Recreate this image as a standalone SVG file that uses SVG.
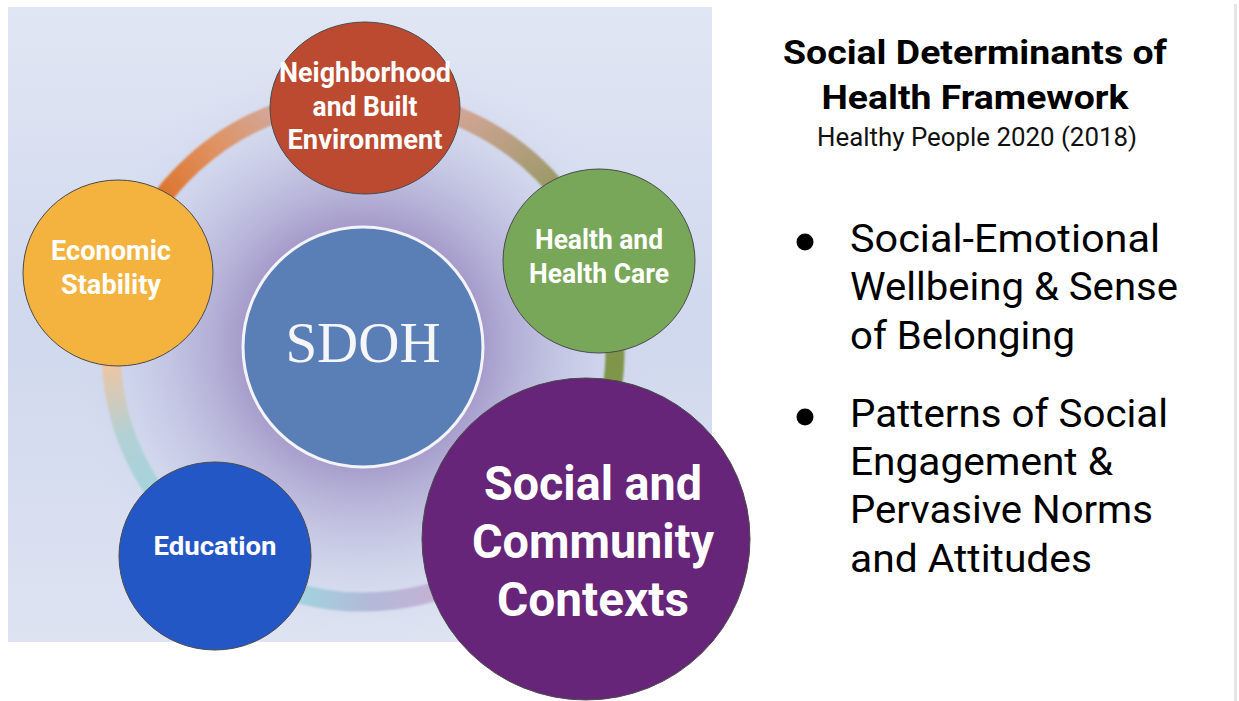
<svg xmlns="http://www.w3.org/2000/svg" width="1239" height="701" viewBox="0 0 1239 701">
  <style>
    .node { stroke: #4a4a4a; stroke-width: 1; }
    .lbl { font-family: Roboto, "Liberation Sans", sans-serif; font-weight: 700; fill: #ffffff; text-anchor: middle; }
    .ring { fill: none; stroke-width: 19; stroke-linecap: butt; }
    .title { font-family: Roboto, "Liberation Sans", sans-serif; font-weight: 700; fill: #000; text-anchor: middle; }
    .sub { font-family: Roboto, "Liberation Sans", sans-serif; font-weight: 400; fill: #111; text-anchor: middle; }
    .bul { font-family: Roboto, "Liberation Sans", sans-serif; font-weight: 400; fill: #000; font-size: 39px; }
  </style>
  <defs>
    <linearGradient id="bgBase" x1="0" y1="0" x2="0" y2="1">
      <stop offset="0" stop-color="#e0e6f3"/>
      <stop offset="0.5" stop-color="#d0d8ee"/>
      <stop offset="1" stop-color="#dde3f1"/>
    </linearGradient>
    <radialGradient id="glow" cx="363" cy="345" r="300" gradientUnits="userSpaceOnUse">
      <stop offset="0" stop-color="#8c7db8" stop-opacity="0.9"/>
      <stop offset="0.4" stop-color="#9a8cc2" stop-opacity="0.8"/>
      <stop offset="0.6" stop-color="#aea8d2" stop-opacity="0.55"/>
      <stop offset="0.8" stop-color="#c4c8e6" stop-opacity="0.3"/>
      <stop offset="1" stop-color="#d5dcef" stop-opacity="0"/>
    </radialGradient>
    <linearGradient id="gTopLeft" gradientUnits="userSpaceOnUse" x1="160" y1="200" x2="275" y2="118">
      <stop offset="0" stop-color="#dc732c"/>
      <stop offset="0.5" stop-color="#e0905e"/>
      <stop offset="1" stop-color="#d4a698"/>
    </linearGradient>
    <linearGradient id="gTopRight" gradientUnits="userSpaceOnUse" x1="455" y1="112" x2="612" y2="360">
      <stop offset="0" stop-color="#d4a596"/>
      <stop offset="0.3" stop-color="#a89c74"/>
      <stop offset="0.55" stop-color="#85934e"/>
      <stop offset="1" stop-color="#7f9548"/>
    </linearGradient>
    <linearGradient id="gLeft" gradientUnits="userSpaceOnUse" x1="110" y1="365" x2="155" y2="495">
      <stop offset="0" stop-color="#ecc6a4"/>
      <stop offset="0.5" stop-color="#b4d0d4"/>
      <stop offset="1" stop-color="#a4d4de"/>
    </linearGradient>
    <linearGradient id="gBottom" gradientUnits="userSpaceOnUse" x1="300" y1="595" x2="435" y2="590">
      <stop offset="0" stop-color="#a2d3de"/>
      <stop offset="0.5" stop-color="#b2bad8"/>
      <stop offset="1" stop-color="#c4b2d6"/>
    </linearGradient>
    <filter id="soft" x="-10%" y="-10%" width="120%" height="120%">
      <feGaussianBlur stdDeviation="0.9"/>
    </filter>
  </defs>

  <!-- page -->
  <rect x="0" y="0" width="1239" height="701" fill="#ffffff"/>
  <rect x="1234" y="4" width="3" height="697" fill="#e6e6e6"/>

  <!-- picture backdrop -->
  <rect x="8" y="7" width="704" height="635" fill="url(#bgBase)"/>
  <rect x="8" y="7" width="704" height="635" fill="url(#glow)"/>

  <!-- connectors: ring segments joining the determinants -->
  <g id="connectors" filter="url(#soft)">
    <path class="ring" stroke="url(#gTopLeft)" d="M 119.6 284.8 A 252 252 0 0 1 319.2 101.8"/>
    <path class="ring" stroke="url(#gTopRight)" d="M 406.8 101.8 A 252 252 0 0 1 611.2 393.8"/>
    <path class="ring" stroke="url(#gLeft)" d="M 111.2 358.8 A 252 252 0 0 0 218.5 556.4"/>
    <path class="ring" stroke="url(#gBottom)" d="M 276.8 586.8 A 252 252 0 0 0 525.0 543.0"/>
  </g>

  <g id="node-sdoh">
    <circle cx="363" cy="347" r="120" fill="#5a7fb6" stroke="#f4f4f8" stroke-width="3"/>
    <text x="363" y="362" font-family="'Liberation Serif', serif" font-size="57" fill="#f5f5fa" text-anchor="middle">SDOH</text>
  </g>

  <g id="node-neighborhood">
    <ellipse class="node" cx="365" cy="108" rx="95" ry="86" fill="#bb4a30"/>
    <text class="lbl" font-size="27" x="365" y="82" textLength="172" lengthAdjust="spacingAndGlyphs">Neighborhood</text>
    <text class="lbl" font-size="27" x="365" y="116" textLength="105" lengthAdjust="spacingAndGlyphs">and Built</text>
    <text class="lbl" font-size="27" x="365" y="149" textLength="155" lengthAdjust="spacingAndGlyphs">Environment</text>
  </g>

  <g id="node-economic">
    <ellipse class="node" cx="118" cy="273" rx="95" ry="93" fill="#f3b33e"/>
    <text class="lbl" font-size="27" x="111" y="260" textLength="120" lengthAdjust="spacingAndGlyphs">Economic</text>
    <text class="lbl" font-size="27" x="111" y="294" textLength="100" lengthAdjust="spacingAndGlyphs">Stability</text>
  </g>

  <g id="node-health">
    <ellipse class="node" cx="599" cy="261" rx="96" ry="92" fill="#79a75a"/>
    <text class="lbl" font-size="27" x="599" y="249" textLength="128" lengthAdjust="spacingAndGlyphs">Health and</text>
    <text class="lbl" font-size="27" x="599" y="283" textLength="140" lengthAdjust="spacingAndGlyphs">Health Care</text>
  </g>

  <g id="node-education">
    <ellipse class="node" cx="215" cy="556" rx="96" ry="94" fill="#2457c6"/>
    <text class="lbl" font-size="26" x="215" y="555" textLength="123" lengthAdjust="spacingAndGlyphs">Education</text>
  </g>

  <g id="node-social">
    <ellipse class="node" cx="586" cy="539" rx="164" ry="161" fill="#662578"/>
    <text class="lbl" font-size="48" x="593" y="500" textLength="218" lengthAdjust="spacingAndGlyphs">Social and</text>
    <text class="lbl" font-size="48" x="593" y="558" textLength="242" lengthAdjust="spacingAndGlyphs">Community</text>
    <text class="lbl" font-size="48" x="593" y="616" textLength="192" lengthAdjust="spacingAndGlyphs">Contexts</text>
  </g>

  <!-- heading -->
  <g id="heading">
    <text class="title" font-size="33" x="975" y="64" textLength="384" lengthAdjust="spacingAndGlyphs">Social Determinants of</text>
    <text class="title" font-size="33" x="975" y="109" textLength="307" lengthAdjust="spacingAndGlyphs">Health Framework</text>
    <text class="sub" font-size="25" x="977" y="146" textLength="320" lengthAdjust="spacingAndGlyphs">Healthy People 2020 (2018)</text>
  </g>

  <!-- bullet list -->
  <g id="bullets">
    <circle cx="805" cy="242" r="8.5" fill="#000"/>
    <text class="bul" x="850" y="252" textLength="310" lengthAdjust="spacingAndGlyphs">Social-Emotional</text>
    <text class="bul" x="850" y="300" textLength="328" lengthAdjust="spacingAndGlyphs">Wellbeing &amp; Sense</text>
    <text class="bul" x="850" y="349" textLength="225" lengthAdjust="spacingAndGlyphs">of Belonging</text>
    <circle cx="805" cy="417" r="8.5" fill="#000"/>
    <text class="bul" x="850" y="427" textLength="318" lengthAdjust="spacingAndGlyphs">Patterns of Social</text>
    <text class="bul" x="850" y="475" textLength="263" lengthAdjust="spacingAndGlyphs">Engagement &amp;</text>
    <text class="bul" x="850" y="523" textLength="303" lengthAdjust="spacingAndGlyphs">Pervasive Norms</text>
    <text class="bul" x="850" y="572" textLength="242" lengthAdjust="spacingAndGlyphs">and Attitudes</text>
  </g>
</svg>
